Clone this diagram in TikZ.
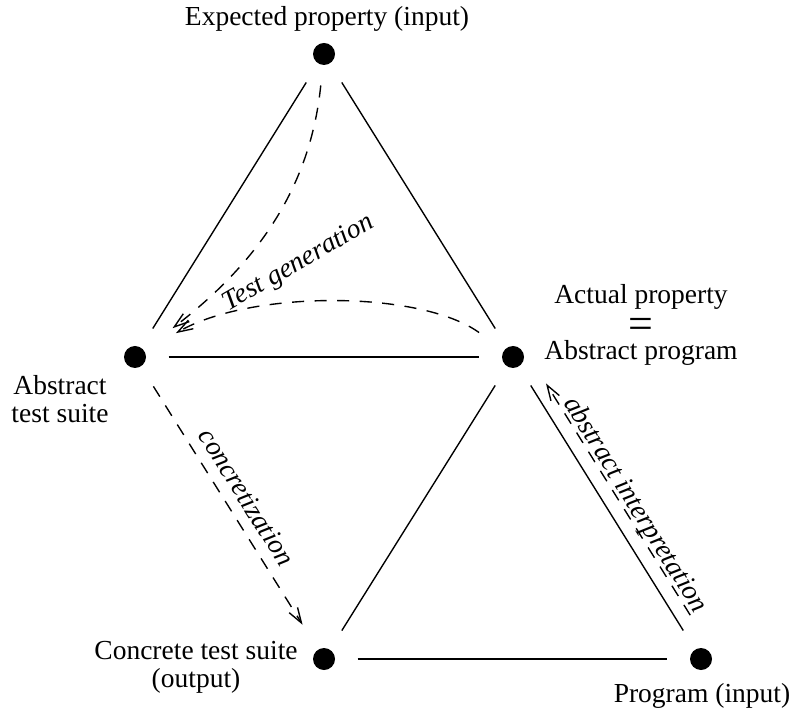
\documentclass[tikz,border=0pt]{standalone}
\usepackage{fontspec}
\setmainfont{Liberation Serif}
\usetikzlibrary{arrows.meta,calc}

\begin{document}
\begin{tikzpicture}[x=0.3636pt, y=-0.3636pt,
    font=\fontsize{10}{10.2}\selectfont,
    dot/.style={circle, fill=black, inner sep=0pt, minimum size=8pt},
    link/.style={draw=black, line width=0.5pt, shorten <=8pt, shorten >=8pt},
    flow/.style={draw=black, line width=0.5pt, dash pattern=on 4.4pt off 3.8pt,
      -{Straight Barb[length=5.5pt,width=3.6pt]}},
    lbl/.style={align=center, inner sep=0pt},
    flowlbl/.style={font=\fontsize{10}{10.2}\selectfont\itshape}]
  \useasboundingbox (0,0) rectangle (795,715);
  % the five points
  \node[dot] (expected) at (324,54) {};
  \node[dot] (abstract) at (135,357) {};
  \node[dot] (actual) at (513,357) {};
  \node[dot] (concrete) at (324,659) {};
  \node[dot] (program) at (701,659) {};
  % their names
  \node[lbl] (expectedlbl) at ([shift={(3,-35.5)}]expected) {Expected property (input)};
  \node[lbl] (abstractlbl) at ([shift={(-75,42.5)}]abstract) {Abstract\\test suite};
  \node[lbl] (actuallbl) at ([shift={(128,-32)}]actual)
    {Actual property\\{\fontsize{16}{10.2}\selectfont\raisebox{-2.6pt}{=}}\\Abstract program};
  \node[lbl] (concretelbl) at ([shift={(-128,8.5)}]concrete) {Concrete test suite\\(output)};
  \node[lbl] (programlbl) at ([shift={(1,36.5)}]program) {Program (input)};
  % the two triangles
  \draw[link] (expected) -- (abstract);
  \draw[link] (expected) -- (actual);
  \draw[link] (abstract) -- (actual);
  \draw[link] (actual) -- (concrete);
  \draw[link] (actual) -- (program);
  \draw[link] (concrete) -- (program);
  % dashed steps
  \draw[flow, shorten <=7.3pt, shorten >=13pt] (expected) .. controls +(-14,136) and +(120,-92) .. (abstract);
  \draw[flow, shorten <=11pt, shorten >=13pt] (actual) .. controls +(-93,-67) and +(115,-67) .. (abstract);
  \node[flowlbl, rotate=30, anchor=base] (testgen) at ([shift={(167,-88)}]abstract) {Test generation};
  \draw[flow, shorten <=8.4pt, shorten >=10.5pt] (abstract) -- node[flowlbl, sloped, above, inner sep=3.8pt] (concr) {concretization} (concrete);
  \coordinate (aistart) at ($(program)!15.6pt!(actual)!5.1pt!-90:(actual)$);
  \coordinate (aiend) at ($(actual)!14.5pt!(program)!5.1pt!90:(program)$);
  \draw[flow] (aistart) -- node[flowlbl, sloped, above, text depth=0pt, inner sep=1.3pt, pos=.45] (absint) {abstract interpretation} (aiend);
\end{tikzpicture}
\end{document}
